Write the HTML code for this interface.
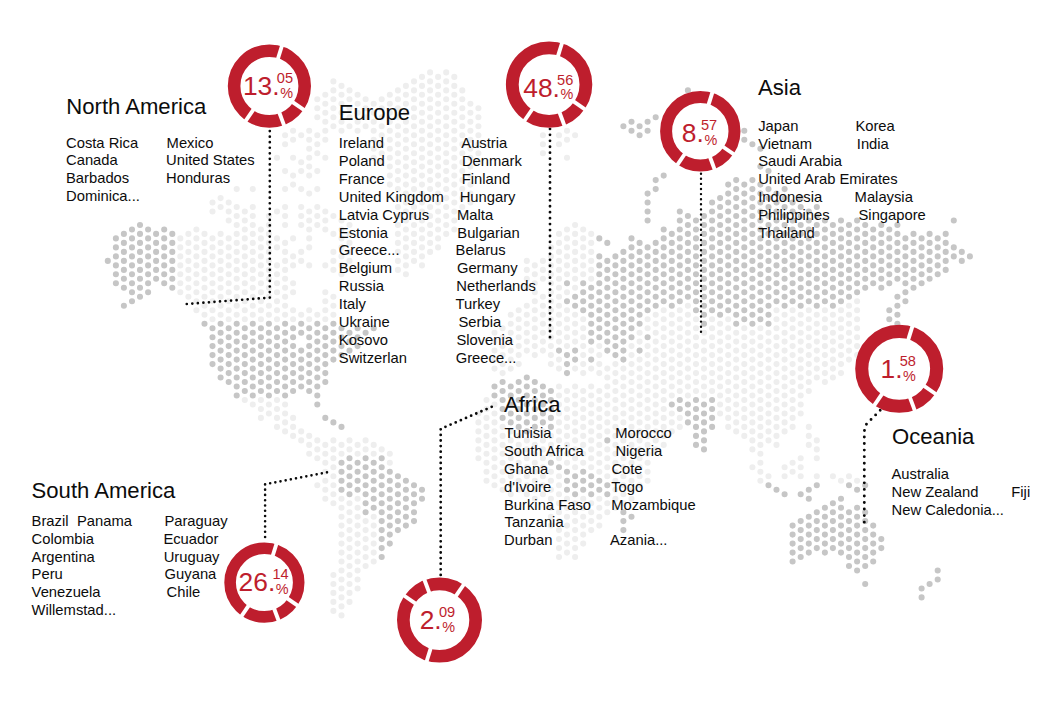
<!DOCTYPE html>
<html><head><meta charset="utf-8"><title>map</title><style>
html,body{margin:0;padding:0;background:#fff}
#c{position:relative;width:1060px;height:703px;overflow:hidden;background:#fff;font-family:"Liberation Sans",sans-serif}
svg{position:absolute;left:0;top:0}
.t{position:absolute;white-space:pre;color:#0c0c0c;line-height:1;}
</style></head><body><div id="c">
<svg width="1060" height="703" viewBox="0 0 1060 703">
<path d="M180.3 238.4h0M180.3 247.4h0M180.3 256.4h0M180.3 265.4h0M180.3 274.3h0M180.3 283.3h0M180.3 292.3h0M188.4 233.9h0M188.4 242.9h0M188.4 251.9h0M188.4 260.9h0M188.4 269.9h0M188.4 278.8h0M188.4 287.8h0M188.4 296.8h0M196.4 229.5h0M196.4 238.4h0M196.4 247.4h0M196.4 256.4h0M196.4 265.4h0M196.4 274.3h0M196.4 283.3h0M196.4 292.3h0M196.4 301.3h0M196.4 310.2h0M204.5 233.9h0M204.5 242.9h0M204.5 251.9h0M204.5 260.9h0M204.5 269.9h0M204.5 278.8h0M204.5 287.8h0M204.5 296.8h0M204.5 305.8h0M204.5 314.7h0M212.5 202.5h0M212.5 211.5h0M212.5 238.4h0M212.5 247.4h0M212.5 256.4h0M212.5 265.4h0M212.5 274.3h0M212.5 283.3h0M212.5 292.3h0M212.5 301.3h0M212.5 310.2h0M212.5 319.2h0M220.6 198.1h0M220.6 207.0h0M220.6 233.9h0M220.6 242.9h0M220.6 251.9h0M220.6 260.9h0M220.6 269.9h0M220.6 278.8h0M220.6 287.8h0M220.6 296.8h0M220.6 305.8h0M220.6 314.7h0M228.7 202.5h0M228.7 211.5h0M228.7 220.5h0M228.7 238.4h0M228.7 247.4h0M228.7 256.4h0M228.7 265.4h0M228.7 274.3h0M228.7 283.3h0M228.7 292.3h0M228.7 301.3h0M228.7 310.2h0M228.7 319.2h0M236.7 189.1h0M236.7 207.0h0M236.7 216.0h0M236.7 225.0h0M236.7 233.9h0M236.7 242.9h0M236.7 251.9h0M236.7 260.9h0M236.7 269.9h0M236.7 278.8h0M236.7 287.8h0M236.7 296.8h0M236.7 305.8h0M236.7 314.7h0M244.8 211.5h0M244.8 220.5h0M244.8 229.5h0M244.8 238.4h0M244.8 247.4h0M244.8 256.4h0M244.8 265.4h0M244.8 274.3h0M244.8 283.3h0M244.8 292.3h0M244.8 301.3h0M244.8 310.2h0M244.8 319.2h0M244.8 400.0h0M252.8 189.1h0M252.8 207.0h0M252.8 216.0h0M252.8 225.0h0M252.8 233.9h0M252.8 242.9h0M252.8 251.9h0M252.8 260.9h0M252.8 269.9h0M252.8 278.8h0M252.8 287.8h0M252.8 296.8h0M252.8 305.8h0M252.8 314.7h0M252.8 404.5h0M260.9 229.5h0M260.9 238.4h0M260.9 247.4h0M260.9 256.4h0M260.9 265.4h0M260.9 274.3h0M260.9 283.3h0M260.9 292.3h0M260.9 301.3h0M260.9 310.2h0M260.9 319.2h0M260.9 400.0h0M260.9 409.0h0M260.9 417.9h0M268.9 216.0h0M268.9 225.0h0M268.9 233.9h0M268.9 242.9h0M268.9 251.9h0M268.9 260.9h0M268.9 269.9h0M268.9 278.8h0M268.9 287.8h0M268.9 296.8h0M268.9 305.8h0M268.9 314.7h0M268.9 404.5h0M268.9 413.5h0M277.0 157.7h0M277.0 211.5h0M277.0 238.4h0M277.0 247.4h0M277.0 265.4h0M277.0 274.3h0M277.0 283.3h0M277.0 292.3h0M277.0 301.3h0M277.0 310.2h0M277.0 319.2h0M277.0 400.0h0M277.0 409.0h0M277.0 417.9h0M277.0 426.9h0M285.1 135.2h0M285.1 144.2h0M285.1 171.1h0M285.1 189.1h0M285.1 207.0h0M285.1 216.0h0M285.1 225.0h0M285.1 242.9h0M285.1 251.9h0M285.1 260.9h0M285.1 269.9h0M285.1 278.8h0M285.1 287.8h0M285.1 296.8h0M285.1 305.8h0M285.1 314.7h0M285.1 404.5h0M285.1 413.5h0M285.1 422.4h0M285.1 431.4h0M293.1 130.7h0M293.1 139.7h0M293.1 157.7h0M293.1 175.6h0M293.1 184.6h0M293.1 238.4h0M293.1 256.4h0M293.1 265.4h0M293.1 283.3h0M293.1 292.3h0M293.1 310.2h0M293.1 319.2h0M293.1 417.9h0M293.1 426.9h0M293.1 435.9h0M301.2 135.2h0M301.2 162.2h0M301.2 171.1h0M301.2 189.1h0M301.2 207.0h0M301.2 216.0h0M301.2 225.0h0M301.2 251.9h0M301.2 260.9h0M301.2 314.7h0M301.2 431.4h0M301.2 440.4h0M309.2 130.7h0M309.2 139.7h0M309.2 148.7h0M309.2 157.7h0M309.2 166.6h0M309.2 175.6h0M309.2 193.6h0M309.2 211.5h0M309.2 220.5h0M309.2 229.5h0M309.2 238.4h0M309.2 247.4h0M309.2 265.4h0M309.2 310.2h0M309.2 319.2h0M309.2 435.9h0M309.2 444.9h0M309.2 453.8h0M317.3 99.3h0M317.3 108.3h0M317.3 117.3h0M317.3 135.2h0M317.3 144.2h0M317.3 153.2h0M317.3 171.1h0M317.3 189.1h0M317.3 207.0h0M317.3 216.0h0M317.3 225.0h0M317.3 314.7h0M317.3 440.4h0M317.3 449.4h0M317.3 458.3h0M317.3 485.2h0M325.3 94.8h0M325.3 103.8h0M325.3 112.8h0M325.3 121.8h0M325.3 130.7h0M325.3 139.7h0M325.3 157.7h0M325.3 211.5h0M325.3 220.5h0M325.3 229.5h0M325.3 265.4h0M325.3 292.3h0M325.3 301.3h0M325.3 310.2h0M325.3 319.2h0M325.3 444.9h0M325.3 453.8h0M325.3 462.8h0M325.3 471.8h0M325.3 480.8h0M325.3 489.7h0M325.3 498.7h0M333.4 81.4h0M333.4 90.4h0M333.4 99.3h0M333.4 108.3h0M333.4 117.3h0M333.4 126.2h0M333.4 216.0h0M333.4 233.9h0M333.4 251.9h0M333.4 260.9h0M333.4 269.9h0M333.4 296.8h0M333.4 305.8h0M333.4 314.7h0M333.4 440.4h0M333.4 449.4h0M333.4 458.3h0M333.4 467.3h0M333.4 476.3h0M333.4 485.2h0M333.4 494.2h0M333.4 503.2h0M333.4 575.0h0M333.4 584.0h0M333.4 592.9h0M333.4 601.9h0M333.4 610.9h0M341.5 85.9h0M341.5 94.8h0M341.5 103.8h0M341.5 112.8h0M341.5 121.8h0M341.5 130.7h0M341.5 220.5h0M341.5 229.5h0M341.5 238.4h0M341.5 247.4h0M341.5 256.4h0M341.5 265.4h0M341.5 274.3h0M341.5 444.9h0M341.5 453.8h0M341.5 498.7h0M341.5 507.7h0M341.5 516.7h0M341.5 525.6h0M341.5 534.6h0M341.5 543.6h0M341.5 552.6h0M341.5 561.5h0M341.5 570.5h0M341.5 579.5h0M341.5 588.5h0M341.5 597.4h0M341.5 606.4h0M341.5 615.4h0M349.5 90.4h0M349.5 99.3h0M349.5 108.3h0M349.5 117.3h0M349.5 126.2h0M349.5 225.0h0M349.5 233.9h0M349.5 242.9h0M349.5 251.9h0M349.5 260.9h0M349.5 440.4h0M349.5 449.4h0M349.5 503.2h0M349.5 512.2h0M349.5 521.1h0M349.5 530.1h0M349.5 539.1h0M349.5 548.1h0M349.5 557.0h0M349.5 566.0h0M349.5 575.0h0M349.5 584.0h0M349.5 592.9h0M349.5 601.9h0M357.6 94.8h0M357.6 103.8h0M357.6 112.8h0M357.6 121.8h0M357.6 130.7h0M357.6 444.9h0M357.6 453.8h0M357.6 498.7h0M357.6 507.7h0M357.6 516.7h0M357.6 525.6h0M357.6 534.6h0M357.6 543.6h0M357.6 552.6h0M357.6 561.5h0M357.6 570.5h0M357.6 579.5h0M357.6 588.5h0M365.6 99.3h0M365.6 108.3h0M365.6 117.3h0M365.6 126.2h0M365.6 440.4h0M365.6 449.4h0M365.6 521.1h0M365.6 530.1h0M365.6 539.1h0M365.6 548.1h0M365.6 557.0h0M365.6 566.0h0M373.7 103.8h0M373.7 112.8h0M373.7 121.8h0M373.7 130.7h0M373.7 139.7h0M373.7 148.7h0M373.7 157.7h0M373.7 444.9h0M373.7 453.8h0M373.7 516.7h0M373.7 525.6h0M373.7 534.6h0M373.7 543.6h0M373.7 552.6h0M373.7 561.5h0M381.7 99.3h0M381.7 108.3h0M381.7 117.3h0M381.7 126.2h0M381.7 135.2h0M381.7 144.2h0M381.7 153.2h0M381.7 162.2h0M381.7 449.4h0M389.8 94.8h0M389.8 103.8h0M389.8 112.8h0M389.8 121.8h0M389.8 130.7h0M389.8 139.7h0M389.8 148.7h0M389.8 157.7h0M389.8 166.6h0M389.8 175.6h0M389.8 184.6h0M389.8 453.8h0M389.8 462.8h0M397.9 90.4h0M397.9 99.3h0M397.9 108.3h0M397.9 117.3h0M397.9 126.2h0M397.9 135.2h0M397.9 144.2h0M397.9 153.2h0M397.9 162.2h0M397.9 171.1h0M397.9 180.1h0M397.9 189.1h0M397.9 198.1h0M397.9 207.0h0M397.9 216.0h0M397.9 225.0h0M397.9 233.9h0M397.9 242.9h0M397.9 251.9h0M397.9 260.9h0M397.9 269.9h0M405.9 85.9h0M405.9 94.8h0M405.9 103.8h0M405.9 112.8h0M405.9 121.8h0M405.9 130.7h0M405.9 139.7h0M405.9 148.7h0M405.9 157.7h0M405.9 166.6h0M405.9 175.6h0M405.9 184.6h0M405.9 193.6h0M405.9 202.5h0M405.9 211.5h0M405.9 220.5h0M405.9 229.5h0M405.9 238.4h0M405.9 247.4h0M405.9 256.4h0M405.9 265.4h0M405.9 274.3h0M414.0 81.4h0M414.0 90.4h0M414.0 99.3h0M414.0 108.3h0M414.0 117.3h0M414.0 126.2h0M414.0 135.2h0M414.0 144.2h0M414.0 153.2h0M414.0 162.2h0M414.0 171.1h0M414.0 180.1h0M414.0 189.1h0M414.0 198.1h0M414.0 207.0h0M414.0 216.0h0M414.0 225.0h0M414.0 233.9h0M414.0 242.9h0M414.0 251.9h0M414.0 260.9h0M422.0 76.9h0M422.0 85.9h0M422.0 94.8h0M422.0 103.8h0M422.0 112.8h0M422.0 121.8h0M422.0 130.7h0M422.0 139.7h0M422.0 148.7h0M422.0 157.7h0M422.0 166.6h0M422.0 175.6h0M422.0 184.6h0M422.0 193.6h0M422.0 202.5h0M422.0 211.5h0M422.0 220.5h0M422.0 229.5h0M422.0 238.4h0M422.0 247.4h0M422.0 256.4h0M422.0 265.4h0M430.1 72.4h0M430.1 81.4h0M430.1 90.4h0M430.1 99.3h0M430.1 108.3h0M430.1 117.3h0M430.1 126.2h0M430.1 135.2h0M430.1 144.2h0M430.1 153.2h0M430.1 162.2h0M430.1 171.1h0M430.1 180.1h0M430.1 189.1h0M430.1 198.1h0M430.1 207.0h0M430.1 216.0h0M430.1 225.0h0M430.1 233.9h0M430.1 242.9h0M430.1 251.9h0M438.1 76.9h0M438.1 85.9h0M438.1 94.8h0M438.1 103.8h0M438.1 112.8h0M438.1 121.8h0M438.1 130.7h0M438.1 139.7h0M438.1 148.7h0M438.1 157.7h0M438.1 166.6h0M438.1 175.6h0M438.1 184.6h0M438.1 193.6h0M438.1 202.5h0M438.1 211.5h0M438.1 220.5h0M438.1 229.5h0M438.1 238.4h0M438.1 247.4h0M446.2 72.4h0M446.2 81.4h0M446.2 90.4h0M446.2 99.3h0M446.2 108.3h0M446.2 117.3h0M446.2 126.2h0M446.2 135.2h0M446.2 144.2h0M446.2 153.2h0M446.2 162.2h0M446.2 171.1h0M446.2 180.1h0M446.2 189.1h0M446.2 198.1h0M446.2 207.0h0M446.2 216.0h0M446.2 225.0h0M446.2 233.9h0M454.3 76.9h0M454.3 85.9h0M454.3 94.8h0M454.3 103.8h0M454.3 112.8h0M454.3 121.8h0M454.3 130.7h0M454.3 139.7h0M454.3 148.7h0M454.3 157.7h0M454.3 166.6h0M454.3 175.6h0M454.3 184.6h0M454.3 193.6h0M454.3 202.5h0M454.3 211.5h0M454.3 220.5h0M454.3 229.5h0M462.3 90.4h0M462.3 99.3h0M462.3 108.3h0M462.3 117.3h0M462.3 126.2h0M462.3 135.2h0M462.3 144.2h0M462.3 153.2h0M462.3 162.2h0M462.3 171.1h0M462.3 180.1h0M462.3 189.1h0M462.3 198.1h0M462.3 207.0h0M462.3 216.0h0M470.4 103.8h0M470.4 112.8h0M470.4 121.8h0M470.4 130.7h0M470.4 139.7h0M470.4 148.7h0M470.4 157.7h0M470.4 166.6h0M470.4 175.6h0M470.4 184.6h0M470.4 193.6h0M470.4 202.5h0M478.4 108.3h0M478.4 117.3h0M478.4 126.2h0M478.4 135.2h0M478.4 144.2h0M478.4 153.2h0M478.4 162.2h0M478.4 413.5h0M478.4 422.4h0M478.4 431.4h0M478.4 440.4h0M478.4 449.4h0M478.4 458.3h0M486.5 400.0h0M486.5 409.0h0M486.5 417.9h0M486.5 426.9h0M486.5 435.9h0M486.5 444.9h0M486.5 453.8h0M486.5 462.8h0M486.5 471.8h0M486.5 480.8h0M494.5 332.7h0M494.5 341.6h0M494.5 350.6h0M494.5 359.6h0M494.5 368.6h0M494.5 404.5h0M494.5 413.5h0M494.5 422.4h0M494.5 431.4h0M494.5 440.4h0M494.5 449.4h0M494.5 458.3h0M494.5 467.3h0M494.5 476.3h0M494.5 485.2h0M502.6 328.2h0M502.6 337.2h0M502.6 346.1h0M502.6 355.1h0M502.6 364.1h0M502.6 373.1h0M502.6 426.9h0M502.6 435.9h0M502.6 444.9h0M502.6 453.8h0M502.6 462.8h0M502.6 471.8h0M502.6 480.8h0M502.6 489.7h0M510.7 314.7h0M510.7 323.7h0M510.7 332.7h0M510.7 341.6h0M510.7 350.6h0M510.7 359.6h0M510.7 368.6h0M510.7 431.4h0M510.7 440.4h0M510.7 449.4h0M510.7 458.3h0M510.7 467.3h0M510.7 476.3h0M510.7 485.2h0M510.7 494.2h0M518.7 310.2h0M518.7 319.2h0M518.7 328.2h0M518.7 337.2h0M518.7 346.1h0M518.7 355.1h0M518.7 364.1h0M518.7 435.9h0M518.7 444.9h0M518.7 453.8h0M518.7 462.8h0M518.7 471.8h0M518.7 480.8h0M518.7 489.7h0M526.8 260.9h0M526.8 269.9h0M526.8 278.8h0M526.8 287.8h0M526.8 305.8h0M526.8 314.7h0M526.8 323.7h0M526.8 332.7h0M526.8 341.6h0M526.8 350.6h0M526.8 440.4h0M526.8 449.4h0M526.8 458.3h0M526.8 467.3h0M526.8 476.3h0M526.8 485.2h0M526.8 494.2h0M534.8 265.4h0M534.8 274.3h0M534.8 283.3h0M534.8 292.3h0M534.8 301.3h0M534.8 310.2h0M534.8 319.2h0M534.8 328.2h0M534.8 337.2h0M534.8 346.1h0M534.8 355.1h0M534.8 435.9h0M534.8 444.9h0M534.8 453.8h0M534.8 462.8h0M534.8 471.8h0M534.8 480.8h0M534.8 489.7h0M534.8 498.7h0M542.9 135.2h0M542.9 144.2h0M542.9 153.2h0M542.9 260.9h0M542.9 269.9h0M542.9 278.8h0M542.9 296.8h0M542.9 305.8h0M542.9 314.7h0M542.9 323.7h0M542.9 332.7h0M542.9 341.6h0M542.9 350.6h0M542.9 431.4h0M542.9 440.4h0M542.9 449.4h0M542.9 458.3h0M542.9 467.3h0M542.9 476.3h0M542.9 485.2h0M542.9 494.2h0M550.9 247.4h0M550.9 256.4h0M550.9 265.4h0M550.9 274.3h0M550.9 283.3h0M550.9 292.3h0M550.9 301.3h0M550.9 310.2h0M550.9 319.2h0M550.9 328.2h0M550.9 337.2h0M550.9 346.1h0M550.9 355.1h0M550.9 364.1h0M550.9 435.9h0M550.9 444.9h0M550.9 453.8h0M550.9 471.8h0M550.9 480.8h0M550.9 489.7h0M550.9 498.7h0M550.9 507.7h0M550.9 516.7h0M550.9 525.6h0M559.0 135.2h0M559.0 144.2h0M559.0 233.9h0M559.0 242.9h0M559.0 251.9h0M559.0 260.9h0M559.0 269.9h0M559.0 278.8h0M559.0 287.8h0M559.0 296.8h0M559.0 305.8h0M559.0 314.7h0M559.0 323.7h0M559.0 332.7h0M559.0 341.6h0M559.0 359.6h0M559.0 368.6h0M559.0 386.5h0M559.0 395.5h0M559.0 404.5h0M559.0 413.5h0M559.0 422.4h0M559.0 431.4h0M559.0 440.4h0M559.0 449.4h0M559.0 458.3h0M559.0 476.3h0M559.0 485.2h0M559.0 494.2h0M559.0 503.2h0M559.0 512.2h0M559.0 521.1h0M559.0 530.1h0M559.0 539.1h0M559.0 548.1h0M559.0 557.0h0M567.0 130.7h0M567.0 139.7h0M567.0 157.7h0M567.0 229.5h0M567.0 238.4h0M567.0 247.4h0M567.0 256.4h0M567.0 265.4h0M567.0 274.3h0M567.0 292.3h0M567.0 310.2h0M567.0 319.2h0M567.0 328.2h0M567.0 337.2h0M567.0 346.1h0M567.0 391.0h0M567.0 400.0h0M567.0 409.0h0M567.0 417.9h0M567.0 426.9h0M567.0 435.9h0M567.0 444.9h0M567.0 453.8h0M567.0 462.8h0M567.0 498.7h0M567.0 507.7h0M567.0 516.7h0M567.0 525.6h0M567.0 534.6h0M567.0 543.6h0M567.0 552.6h0M575.1 135.2h0M575.1 225.0h0M575.1 233.9h0M575.1 242.9h0M575.1 251.9h0M575.1 260.9h0M575.1 269.9h0M575.1 278.8h0M575.1 287.8h0M575.1 314.7h0M575.1 323.7h0M575.1 332.7h0M575.1 341.6h0M575.1 368.6h0M575.1 386.5h0M575.1 395.5h0M575.1 404.5h0M575.1 413.5h0M575.1 422.4h0M575.1 431.4h0M575.1 440.4h0M575.1 449.4h0M575.1 458.3h0M575.1 467.3h0M575.1 503.2h0M575.1 512.2h0M575.1 521.1h0M575.1 530.1h0M575.1 539.1h0M575.1 548.1h0M575.1 557.0h0M583.2 229.5h0M583.2 238.4h0M583.2 247.4h0M583.2 256.4h0M583.2 265.4h0M583.2 274.3h0M583.2 319.2h0M583.2 328.2h0M583.2 337.2h0M583.2 346.1h0M583.2 355.1h0M583.2 364.1h0M583.2 373.1h0M583.2 391.0h0M583.2 400.0h0M583.2 409.0h0M583.2 417.9h0M583.2 426.9h0M583.2 435.9h0M583.2 444.9h0M583.2 453.8h0M583.2 462.8h0M583.2 498.7h0M583.2 507.7h0M583.2 516.7h0M583.2 525.6h0M583.2 534.6h0M583.2 543.6h0M591.2 233.9h0M591.2 242.9h0M591.2 251.9h0M591.2 260.9h0M591.2 269.9h0M591.2 278.8h0M591.2 350.6h0M591.2 368.6h0M591.2 386.5h0M591.2 395.5h0M591.2 404.5h0M591.2 413.5h0M591.2 422.4h0M591.2 431.4h0M591.2 440.4h0M591.2 449.4h0M591.2 458.3h0M591.2 467.3h0M591.2 503.2h0M591.2 512.2h0M591.2 521.1h0M591.2 530.1h0M599.3 346.1h0M599.3 355.1h0M599.3 364.1h0M599.3 373.1h0M599.3 391.0h0M599.3 400.0h0M599.3 409.0h0M599.3 417.9h0M599.3 426.9h0M599.3 435.9h0M599.3 444.9h0M599.3 453.8h0M599.3 462.8h0M599.3 471.8h0M599.3 498.7h0M599.3 507.7h0M599.3 516.7h0M599.3 525.6h0M607.3 368.6h0M607.3 377.5h0M607.3 386.5h0M607.3 395.5h0M607.3 404.5h0M607.3 413.5h0M607.3 422.4h0M607.3 431.4h0M607.3 449.4h0M607.3 458.3h0M607.3 467.3h0M607.3 476.3h0M607.3 503.2h0M607.3 512.2h0M615.4 364.1h0M615.4 373.1h0M615.4 382.0h0M615.4 391.0h0M615.4 400.0h0M615.4 409.0h0M615.4 417.9h0M615.4 426.9h0M615.4 435.9h0M615.4 444.9h0M615.4 453.8h0M615.4 462.8h0M615.4 471.8h0M615.4 480.8h0M615.4 489.7h0M615.4 498.7h0M615.4 507.7h0M623.4 368.6h0M623.4 377.5h0M623.4 386.5h0M623.4 395.5h0M623.4 404.5h0M623.4 413.5h0M623.4 422.4h0M623.4 431.4h0M623.4 440.4h0M623.4 449.4h0M623.4 458.3h0M623.4 467.3h0M623.4 476.3h0M623.4 485.2h0M623.4 494.2h0M623.4 503.2h0M631.5 346.1h0M631.5 355.1h0M631.5 364.1h0M631.5 373.1h0M631.5 382.0h0M631.5 391.0h0M631.5 400.0h0M631.5 409.0h0M631.5 417.9h0M631.5 426.9h0M631.5 435.9h0M631.5 444.9h0M631.5 453.8h0M631.5 462.8h0M631.5 471.8h0M631.5 480.8h0M631.5 489.7h0M631.5 498.7h0M639.6 332.7h0M639.6 341.6h0M639.6 359.6h0M639.6 368.6h0M639.6 377.5h0M639.6 386.5h0M639.6 395.5h0M639.6 404.5h0M639.6 413.5h0M639.6 422.4h0M639.6 431.4h0M639.6 440.4h0M639.6 449.4h0M639.6 458.3h0M639.6 467.3h0M639.6 476.3h0M639.6 485.2h0M647.6 319.2h0M647.6 328.2h0M647.6 346.1h0M647.6 355.1h0M647.6 364.1h0M647.6 373.1h0M647.6 382.0h0M647.6 391.0h0M647.6 400.0h0M647.6 409.0h0M647.6 417.9h0M647.6 426.9h0M647.6 435.9h0M647.6 444.9h0M647.6 453.8h0M647.6 462.8h0M647.6 471.8h0M647.6 480.8h0M655.7 314.7h0M655.7 323.7h0M655.7 332.7h0M655.7 341.6h0M655.7 350.6h0M655.7 359.6h0M655.7 368.6h0M655.7 377.5h0M655.7 386.5h0M655.7 395.5h0M655.7 404.5h0M655.7 413.5h0M655.7 422.4h0M655.7 431.4h0M655.7 440.4h0M655.7 449.4h0M663.7 310.2h0M663.7 319.2h0M663.7 328.2h0M663.7 337.2h0M663.7 346.1h0M663.7 355.1h0M663.7 364.1h0M663.7 373.1h0M663.7 382.0h0M663.7 391.0h0M663.7 400.0h0M663.7 409.0h0M663.7 417.9h0M663.7 426.9h0M663.7 435.9h0M663.7 444.9h0M671.8 314.7h0M671.8 323.7h0M671.8 332.7h0M671.8 341.6h0M671.8 350.6h0M671.8 359.6h0M671.8 368.6h0M671.8 377.5h0M671.8 386.5h0M671.8 395.5h0M671.8 413.5h0M671.8 422.4h0M671.8 431.4h0M679.8 310.2h0M679.8 319.2h0M679.8 328.2h0M679.8 337.2h0M679.8 346.1h0M679.8 355.1h0M679.8 364.1h0M679.8 373.1h0M679.8 382.0h0M679.8 391.0h0M679.8 417.9h0M679.8 426.9h0M687.9 305.8h0M687.9 314.7h0M687.9 323.7h0M687.9 332.7h0M687.9 341.6h0M687.9 350.6h0M687.9 359.6h0M687.9 368.6h0M687.9 377.5h0M687.9 386.5h0M687.9 395.5h0M696.0 319.2h0M696.0 328.2h0M696.0 337.2h0M696.0 346.1h0M696.0 355.1h0M696.0 364.1h0M696.0 373.1h0M696.0 382.0h0M696.0 391.0h0M704.0 332.7h0M704.0 341.6h0M704.0 350.6h0M704.0 359.6h0M704.0 368.6h0M704.0 377.5h0M704.0 386.5h0M704.0 395.5h0M712.1 319.2h0M712.1 328.2h0M712.1 337.2h0M712.1 346.1h0M712.1 355.1h0M712.1 364.1h0M712.1 373.1h0M712.1 382.0h0M712.1 391.0h0M720.1 323.7h0M720.1 332.7h0M720.1 341.6h0M720.1 350.6h0M720.1 359.6h0M720.1 368.6h0M720.1 377.5h0M720.1 386.5h0M720.1 395.5h0M720.1 404.5h0M720.1 413.5h0M728.2 319.2h0M728.2 328.2h0M728.2 337.2h0M728.2 346.1h0M728.2 355.1h0M728.2 364.1h0M728.2 373.1h0M728.2 382.0h0M728.2 391.0h0M728.2 400.0h0M728.2 409.0h0M728.2 417.9h0M728.2 426.9h0M736.2 332.7h0M736.2 341.6h0M736.2 350.6h0M736.2 359.6h0M736.2 368.6h0M736.2 377.5h0M736.2 386.5h0M736.2 395.5h0M736.2 404.5h0M736.2 413.5h0M736.2 422.4h0M736.2 431.4h0M744.3 328.2h0M744.3 337.2h0M744.3 346.1h0M744.3 355.1h0M744.3 364.1h0M744.3 373.1h0M744.3 382.0h0M744.3 391.0h0M744.3 400.0h0M744.3 409.0h0M744.3 417.9h0M744.3 426.9h0M744.3 435.9h0M752.4 332.7h0M752.4 341.6h0M752.4 350.6h0M752.4 359.6h0M752.4 368.6h0M752.4 377.5h0M752.4 386.5h0M752.4 395.5h0M752.4 404.5h0M752.4 413.5h0M752.4 422.4h0M752.4 431.4h0M752.4 440.4h0M752.4 449.4h0M752.4 467.3h0M760.4 328.2h0M760.4 337.2h0M760.4 346.1h0M760.4 355.1h0M760.4 364.1h0M760.4 373.1h0M760.4 382.0h0M760.4 391.0h0M760.4 400.0h0M760.4 409.0h0M760.4 417.9h0M760.4 426.9h0M760.4 435.9h0M760.4 444.9h0M760.4 453.8h0M760.4 462.8h0M760.4 471.8h0M760.4 480.8h0M768.5 332.7h0M768.5 341.6h0M768.5 350.6h0M768.5 359.6h0M768.5 368.6h0M768.5 377.5h0M768.5 386.5h0M768.5 395.5h0M768.5 404.5h0M768.5 413.5h0M768.5 422.4h0M768.5 431.4h0M768.5 440.4h0M768.5 476.3h0M776.5 310.2h0M776.5 319.2h0M776.5 328.2h0M776.5 337.2h0M776.5 346.1h0M776.5 355.1h0M776.5 364.1h0M776.5 373.1h0M776.5 382.0h0M776.5 391.0h0M776.5 400.0h0M776.5 409.0h0M776.5 417.9h0M776.5 426.9h0M776.5 435.9h0M776.5 444.9h0M784.6 314.7h0M784.6 323.7h0M784.6 332.7h0M784.6 341.6h0M784.6 350.6h0M784.6 359.6h0M784.6 368.6h0M784.6 377.5h0M784.6 386.5h0M784.6 395.5h0M784.6 404.5h0M784.6 413.5h0M784.6 422.4h0M784.6 431.4h0M784.6 467.3h0M784.6 476.3h0M792.6 310.2h0M792.6 319.2h0M792.6 328.2h0M792.6 337.2h0M792.6 346.1h0M792.6 355.1h0M792.6 364.1h0M792.6 373.1h0M792.6 382.0h0M792.6 391.0h0M792.6 400.0h0M792.6 409.0h0M792.6 417.9h0M792.6 426.9h0M792.6 462.8h0M792.6 471.8h0M800.7 314.7h0M800.7 323.7h0M800.7 332.7h0M800.7 341.6h0M800.7 350.6h0M800.7 359.6h0M800.7 368.6h0M800.7 377.5h0M800.7 386.5h0M800.7 395.5h0M800.7 404.5h0M800.7 413.5h0M800.7 458.3h0M800.7 467.3h0M800.7 476.3h0M808.8 310.2h0M808.8 319.2h0M808.8 328.2h0M808.8 337.2h0M808.8 346.1h0M808.8 355.1h0M808.8 364.1h0M808.8 373.1h0M808.8 382.0h0M808.8 391.0h0M808.8 426.9h0M808.8 435.9h0M808.8 444.9h0M816.8 314.7h0M816.8 323.7h0M816.8 332.7h0M816.8 341.6h0M816.8 350.6h0M816.8 359.6h0M816.8 368.6h0M816.8 377.5h0M816.8 440.4h0M816.8 449.4h0M816.8 458.3h0M816.8 476.3h0M824.9 310.2h0M824.9 319.2h0M824.9 328.2h0M824.9 337.2h0M824.9 346.1h0M824.9 355.1h0M824.9 364.1h0M824.9 373.1h0M824.9 382.0h0M832.9 314.7h0M832.9 323.7h0M832.9 332.7h0M832.9 341.6h0M832.9 350.6h0M832.9 359.6h0M832.9 368.6h0M832.9 377.5h0M832.9 476.3h0M841.0 310.2h0M841.0 319.2h0M841.0 328.2h0M841.0 337.2h0M841.0 346.1h0M841.0 355.1h0M841.0 364.1h0M841.0 373.1h0M841.0 480.8h0M849.0 305.8h0M849.0 314.7h0M849.0 323.7h0M849.0 332.7h0M849.0 341.6h0M849.0 350.6h0M849.0 359.6h0M849.0 476.3h0M857.1 301.3h0M857.1 310.2h0M857.1 319.2h0M857.1 328.2h0M857.1 337.2h0M857.1 346.1h0M857.1 355.1h0M857.1 480.8h0" stroke="#eeeeee" stroke-width="6.1" stroke-linecap="round" fill="none"/>
<path d="M107.8 260.9h0M115.9 238.4h0M115.9 247.4h0M115.9 256.4h0M115.9 265.4h0M115.9 274.3h0M115.9 283.3h0M123.9 233.9h0M123.9 242.9h0M123.9 251.9h0M123.9 260.9h0M123.9 269.9h0M123.9 278.8h0M123.9 287.8h0M123.9 305.8h0M132.0 229.5h0M132.0 238.4h0M132.0 247.4h0M132.0 256.4h0M132.0 265.4h0M132.0 274.3h0M132.0 283.3h0M132.0 292.3h0M132.0 301.3h0M140.0 225.0h0M140.0 233.9h0M140.0 242.9h0M140.0 251.9h0M140.0 260.9h0M140.0 269.9h0M140.0 278.8h0M140.0 287.8h0M140.0 296.8h0M148.1 229.5h0M148.1 238.4h0M148.1 247.4h0M148.1 256.4h0M148.1 265.4h0M148.1 274.3h0M148.1 283.3h0M148.1 292.3h0M156.1 233.9h0M156.1 242.9h0M156.1 251.9h0M156.1 260.9h0M156.1 269.9h0M156.1 278.8h0M164.2 229.5h0M164.2 238.4h0M164.2 247.4h0M164.2 256.4h0M164.2 265.4h0M164.2 274.3h0M164.2 283.3h0M172.3 233.9h0M172.3 242.9h0M172.3 251.9h0M172.3 260.9h0M172.3 269.9h0M172.3 278.8h0M172.3 287.8h0M204.5 323.7h0M212.5 328.2h0M212.5 337.2h0M212.5 346.1h0M212.5 355.1h0M212.5 364.1h0M220.6 323.7h0M220.6 332.7h0M220.6 341.6h0M220.6 350.6h0M220.6 359.6h0M220.6 368.6h0M220.6 377.5h0M228.7 328.2h0M228.7 337.2h0M228.7 346.1h0M228.7 355.1h0M228.7 364.1h0M228.7 373.1h0M228.7 382.0h0M236.7 323.7h0M236.7 332.7h0M236.7 341.6h0M236.7 350.6h0M236.7 359.6h0M236.7 368.6h0M236.7 377.5h0M236.7 386.5h0M236.7 395.5h0M244.8 328.2h0M244.8 337.2h0M244.8 346.1h0M244.8 355.1h0M244.8 364.1h0M244.8 373.1h0M244.8 382.0h0M244.8 391.0h0M252.8 323.7h0M252.8 332.7h0M252.8 341.6h0M252.8 350.6h0M252.8 359.6h0M252.8 368.6h0M252.8 377.5h0M252.8 386.5h0M252.8 395.5h0M260.9 328.2h0M260.9 337.2h0M260.9 346.1h0M260.9 355.1h0M260.9 364.1h0M260.9 373.1h0M260.9 382.0h0M260.9 391.0h0M268.9 323.7h0M268.9 332.7h0M268.9 341.6h0M268.9 350.6h0M268.9 359.6h0M268.9 368.6h0M268.9 377.5h0M268.9 386.5h0M268.9 395.5h0M277.0 328.2h0M277.0 337.2h0M277.0 346.1h0M277.0 355.1h0M277.0 364.1h0M277.0 373.1h0M277.0 382.0h0M277.0 391.0h0M285.1 323.7h0M285.1 332.7h0M285.1 341.6h0M285.1 350.6h0M285.1 359.6h0M285.1 368.6h0M285.1 377.5h0M285.1 386.5h0M285.1 395.5h0M293.1 328.2h0M293.1 337.2h0M293.1 346.1h0M293.1 355.1h0M293.1 364.1h0M293.1 373.1h0M293.1 382.0h0M293.1 391.0h0M301.2 323.7h0M301.2 332.7h0M301.2 350.6h0M301.2 359.6h0M301.2 368.6h0M301.2 377.5h0M301.2 386.5h0M309.2 328.2h0M309.2 337.2h0M309.2 346.1h0M309.2 355.1h0M309.2 364.1h0M309.2 373.1h0M309.2 382.0h0M309.2 391.0h0M317.3 323.7h0M317.3 332.7h0M317.3 341.6h0M317.3 350.6h0M317.3 359.6h0M317.3 368.6h0M317.3 377.5h0M317.3 386.5h0M317.3 395.5h0M317.3 404.5h0M325.3 328.2h0M325.3 337.2h0M325.3 346.1h0M325.3 355.1h0M325.3 364.1h0M325.3 373.1h0M325.3 382.0h0M325.3 417.9h0M333.4 323.7h0M333.4 332.7h0M333.4 341.6h0M333.4 350.6h0M333.4 359.6h0M333.4 422.4h0M341.5 328.2h0M341.5 337.2h0M341.5 346.1h0M341.5 355.1h0M341.5 426.9h0M341.5 462.8h0M341.5 471.8h0M341.5 480.8h0M341.5 489.7h0M349.5 332.7h0M349.5 341.6h0M349.5 350.6h0M349.5 458.3h0M349.5 467.3h0M349.5 476.3h0M349.5 485.2h0M349.5 494.2h0M357.6 328.2h0M357.6 337.2h0M357.6 346.1h0M357.6 462.8h0M357.6 471.8h0M357.6 480.8h0M357.6 489.7h0M365.6 332.7h0M365.6 458.3h0M365.6 467.3h0M365.6 476.3h0M365.6 485.2h0M365.6 494.2h0M365.6 503.2h0M365.6 512.2h0M373.7 328.2h0M373.7 462.8h0M373.7 471.8h0M373.7 480.8h0M373.7 489.7h0M373.7 498.7h0M373.7 507.7h0M381.7 458.3h0M381.7 467.3h0M381.7 476.3h0M381.7 485.2h0M381.7 494.2h0M381.7 503.2h0M381.7 512.2h0M381.7 521.1h0M381.7 530.1h0M381.7 539.1h0M381.7 548.1h0M381.7 557.0h0M389.8 471.8h0M389.8 480.8h0M389.8 489.7h0M389.8 498.7h0M389.8 507.7h0M389.8 516.7h0M389.8 525.6h0M389.8 534.6h0M389.8 543.6h0M397.9 476.3h0M397.9 485.2h0M397.9 494.2h0M397.9 503.2h0M397.9 512.2h0M397.9 521.1h0M397.9 530.1h0M405.9 480.8h0M405.9 489.7h0M405.9 498.7h0M405.9 507.7h0M405.9 516.7h0M405.9 525.6h0M414.0 485.2h0M414.0 494.2h0M414.0 503.2h0M414.0 512.2h0M414.0 521.1h0M422.0 489.7h0M422.0 498.7h0M494.5 386.5h0M494.5 395.5h0M502.6 382.0h0M502.6 391.0h0M502.6 400.0h0M502.6 409.0h0M502.6 417.9h0M510.7 386.5h0M510.7 395.5h0M510.7 404.5h0M510.7 413.5h0M510.7 422.4h0M518.7 382.0h0M518.7 391.0h0M518.7 400.0h0M518.7 409.0h0M518.7 417.9h0M518.7 426.9h0M526.8 377.5h0M526.8 386.5h0M526.8 395.5h0M526.8 404.5h0M526.8 413.5h0M526.8 422.4h0M526.8 431.4h0M534.8 382.0h0M534.8 391.0h0M534.8 400.0h0M534.8 409.0h0M534.8 417.9h0M534.8 426.9h0M542.9 386.5h0M542.9 395.5h0M542.9 404.5h0M542.9 413.5h0M542.9 422.4h0M550.9 391.0h0M550.9 400.0h0M550.9 409.0h0M550.9 417.9h0M550.9 426.9h0M550.9 462.8h0M559.0 350.6h0M559.0 467.3h0M567.0 283.3h0M567.0 301.3h0M567.0 355.1h0M567.0 364.1h0M567.0 373.1h0M567.0 471.8h0M567.0 480.8h0M567.0 489.7h0M575.1 296.8h0M575.1 305.8h0M575.1 350.6h0M575.1 359.6h0M575.1 476.3h0M575.1 485.2h0M575.1 494.2h0M583.2 283.3h0M583.2 292.3h0M583.2 301.3h0M583.2 310.2h0M583.2 471.8h0M583.2 480.8h0M583.2 489.7h0M591.2 287.8h0M591.2 296.8h0M591.2 305.8h0M591.2 314.7h0M591.2 323.7h0M591.2 332.7h0M591.2 341.6h0M591.2 359.6h0M591.2 476.3h0M591.2 485.2h0M591.2 494.2h0M599.3 238.4h0M599.3 256.4h0M599.3 265.4h0M599.3 274.3h0M599.3 283.3h0M599.3 292.3h0M599.3 301.3h0M599.3 310.2h0M599.3 319.2h0M599.3 328.2h0M599.3 337.2h0M599.3 480.8h0M599.3 489.7h0M607.3 242.9h0M607.3 260.9h0M607.3 269.9h0M607.3 278.8h0M607.3 287.8h0M607.3 296.8h0M607.3 305.8h0M607.3 314.7h0M607.3 323.7h0M607.3 332.7h0M607.3 341.6h0M607.3 350.6h0M607.3 440.4h0M607.3 485.2h0M607.3 494.2h0M615.4 256.4h0M615.4 265.4h0M615.4 274.3h0M615.4 283.3h0M615.4 292.3h0M615.4 301.3h0M615.4 310.2h0M615.4 319.2h0M615.4 328.2h0M615.4 337.2h0M615.4 346.1h0M615.4 355.1h0M623.4 126.2h0M623.4 251.9h0M623.4 260.9h0M623.4 269.9h0M623.4 278.8h0M623.4 287.8h0M623.4 296.8h0M623.4 305.8h0M623.4 314.7h0M623.4 323.7h0M623.4 332.7h0M623.4 341.6h0M623.4 350.6h0M623.4 359.6h0M623.4 512.2h0M623.4 521.1h0M623.4 530.1h0M631.5 121.8h0M631.5 130.7h0M631.5 238.4h0M631.5 247.4h0M631.5 256.4h0M631.5 265.4h0M631.5 274.3h0M631.5 283.3h0M631.5 292.3h0M631.5 301.3h0M631.5 310.2h0M631.5 319.2h0M631.5 328.2h0M631.5 337.2h0M631.5 516.7h0M639.6 126.2h0M639.6 135.2h0M639.6 242.9h0M639.6 251.9h0M639.6 260.9h0M639.6 269.9h0M639.6 278.8h0M639.6 287.8h0M639.6 296.8h0M639.6 305.8h0M639.6 314.7h0M639.6 323.7h0M639.6 350.6h0M647.6 121.8h0M647.6 130.7h0M647.6 193.6h0M647.6 202.5h0M647.6 211.5h0M647.6 220.5h0M647.6 247.4h0M647.6 256.4h0M647.6 265.4h0M647.6 274.3h0M647.6 283.3h0M647.6 292.3h0M647.6 301.3h0M647.6 310.2h0M647.6 337.2h0M655.7 117.3h0M655.7 180.1h0M655.7 189.1h0M655.7 242.9h0M655.7 251.9h0M655.7 260.9h0M655.7 269.9h0M655.7 278.8h0M655.7 287.8h0M655.7 296.8h0M655.7 305.8h0M663.7 175.6h0M663.7 229.5h0M663.7 238.4h0M663.7 247.4h0M663.7 256.4h0M663.7 265.4h0M663.7 274.3h0M663.7 283.3h0M663.7 292.3h0M663.7 301.3h0M671.8 233.9h0M671.8 242.9h0M671.8 251.9h0M671.8 260.9h0M671.8 269.9h0M671.8 278.8h0M671.8 287.8h0M671.8 296.8h0M671.8 305.8h0M671.8 404.5h0M679.8 211.5h0M679.8 220.5h0M679.8 229.5h0M679.8 238.4h0M679.8 247.4h0M679.8 256.4h0M679.8 265.4h0M679.8 274.3h0M679.8 283.3h0M679.8 292.3h0M679.8 301.3h0M679.8 400.0h0M679.8 409.0h0M687.9 90.4h0M687.9 216.0h0M687.9 225.0h0M687.9 233.9h0M687.9 242.9h0M687.9 251.9h0M687.9 260.9h0M687.9 269.9h0M687.9 278.8h0M687.9 287.8h0M687.9 296.8h0M687.9 404.5h0M687.9 413.5h0M687.9 422.4h0M696.0 220.5h0M696.0 229.5h0M696.0 238.4h0M696.0 247.4h0M696.0 256.4h0M696.0 265.4h0M696.0 274.3h0M696.0 283.3h0M696.0 292.3h0M696.0 301.3h0M696.0 310.2h0M696.0 400.0h0M696.0 409.0h0M696.0 417.9h0M696.0 426.9h0M696.0 435.9h0M696.0 444.9h0M704.0 216.0h0M704.0 225.0h0M704.0 233.9h0M704.0 242.9h0M704.0 251.9h0M704.0 260.9h0M704.0 269.9h0M704.0 278.8h0M704.0 287.8h0M704.0 296.8h0M704.0 305.8h0M704.0 314.7h0M704.0 323.7h0M704.0 404.5h0M704.0 413.5h0M704.0 422.4h0M704.0 431.4h0M704.0 440.4h0M704.0 449.4h0M712.1 202.5h0M712.1 211.5h0M712.1 220.5h0M712.1 229.5h0M712.1 238.4h0M712.1 247.4h0M712.1 256.4h0M712.1 265.4h0M712.1 274.3h0M712.1 283.3h0M712.1 292.3h0M712.1 301.3h0M712.1 310.2h0M712.1 400.0h0M712.1 409.0h0M712.1 417.9h0M712.1 426.9h0M720.1 198.1h0M720.1 207.0h0M720.1 216.0h0M720.1 225.0h0M720.1 233.9h0M720.1 242.9h0M720.1 251.9h0M720.1 260.9h0M720.1 269.9h0M720.1 278.8h0M720.1 287.8h0M720.1 296.8h0M720.1 305.8h0M720.1 314.7h0M728.2 184.6h0M728.2 193.6h0M728.2 202.5h0M728.2 211.5h0M728.2 220.5h0M728.2 229.5h0M728.2 238.4h0M728.2 247.4h0M728.2 256.4h0M728.2 265.4h0M728.2 274.3h0M728.2 283.3h0M728.2 292.3h0M728.2 301.3h0M728.2 310.2h0M736.2 180.1h0M736.2 189.1h0M736.2 198.1h0M736.2 207.0h0M736.2 216.0h0M736.2 225.0h0M736.2 233.9h0M736.2 242.9h0M736.2 251.9h0M736.2 260.9h0M736.2 269.9h0M736.2 278.8h0M736.2 287.8h0M736.2 296.8h0M736.2 305.8h0M736.2 314.7h0M736.2 323.7h0M744.3 130.7h0M744.3 139.7h0M744.3 184.6h0M744.3 193.6h0M744.3 202.5h0M744.3 211.5h0M744.3 220.5h0M744.3 229.5h0M744.3 238.4h0M744.3 247.4h0M744.3 256.4h0M744.3 265.4h0M744.3 274.3h0M744.3 283.3h0M744.3 292.3h0M744.3 301.3h0M744.3 310.2h0M744.3 319.2h0M752.4 144.2h0M752.4 180.1h0M752.4 189.1h0M752.4 198.1h0M752.4 207.0h0M752.4 216.0h0M752.4 225.0h0M752.4 233.9h0M752.4 242.9h0M752.4 251.9h0M752.4 260.9h0M752.4 269.9h0M752.4 278.8h0M752.4 287.8h0M752.4 296.8h0M752.4 305.8h0M752.4 314.7h0M752.4 323.7h0M760.4 148.7h0M760.4 166.6h0M760.4 184.6h0M760.4 193.6h0M760.4 202.5h0M760.4 211.5h0M760.4 220.5h0M760.4 229.5h0M760.4 238.4h0M760.4 247.4h0M760.4 256.4h0M760.4 265.4h0M760.4 274.3h0M760.4 283.3h0M760.4 292.3h0M760.4 301.3h0M760.4 310.2h0M760.4 319.2h0M768.5 171.1h0M768.5 189.1h0M768.5 198.1h0M768.5 207.0h0M768.5 216.0h0M768.5 225.0h0M768.5 233.9h0M768.5 242.9h0M768.5 251.9h0M768.5 260.9h0M768.5 269.9h0M768.5 278.8h0M768.5 287.8h0M768.5 296.8h0M768.5 305.8h0M768.5 314.7h0M768.5 323.7h0M768.5 485.2h0M776.5 193.6h0M776.5 202.5h0M776.5 211.5h0M776.5 220.5h0M776.5 229.5h0M776.5 238.4h0M776.5 247.4h0M776.5 256.4h0M776.5 265.4h0M776.5 274.3h0M776.5 283.3h0M776.5 292.3h0M776.5 301.3h0M776.5 489.7h0M784.6 189.1h0M784.6 198.1h0M784.6 207.0h0M784.6 216.0h0M784.6 225.0h0M784.6 233.9h0M784.6 242.9h0M784.6 251.9h0M784.6 260.9h0M784.6 269.9h0M784.6 278.8h0M784.6 287.8h0M784.6 296.8h0M784.6 305.8h0M784.6 494.2h0M792.6 202.5h0M792.6 211.5h0M792.6 220.5h0M792.6 229.5h0M792.6 238.4h0M792.6 247.4h0M792.6 256.4h0M792.6 265.4h0M792.6 274.3h0M792.6 283.3h0M792.6 292.3h0M792.6 301.3h0M792.6 525.6h0M792.6 534.6h0M792.6 543.6h0M792.6 552.6h0M792.6 561.5h0M800.7 198.1h0M800.7 207.0h0M800.7 216.0h0M800.7 225.0h0M800.7 233.9h0M800.7 242.9h0M800.7 251.9h0M800.7 260.9h0M800.7 269.9h0M800.7 278.8h0M800.7 287.8h0M800.7 296.8h0M800.7 305.8h0M800.7 494.2h0M800.7 521.1h0M800.7 530.1h0M800.7 539.1h0M800.7 548.1h0M800.7 557.0h0M808.8 211.5h0M808.8 220.5h0M808.8 229.5h0M808.8 238.4h0M808.8 247.4h0M808.8 256.4h0M808.8 265.4h0M808.8 274.3h0M808.8 283.3h0M808.8 292.3h0M808.8 301.3h0M808.8 489.7h0M808.8 498.7h0M808.8 516.7h0M808.8 525.6h0M808.8 534.6h0M808.8 543.6h0M808.8 552.6h0M816.8 207.0h0M816.8 216.0h0M816.8 225.0h0M816.8 233.9h0M816.8 242.9h0M816.8 251.9h0M816.8 260.9h0M816.8 269.9h0M816.8 278.8h0M816.8 287.8h0M816.8 296.8h0M816.8 305.8h0M816.8 485.2h0M816.8 512.2h0M816.8 521.1h0M816.8 530.1h0M816.8 539.1h0M816.8 548.1h0M824.9 220.5h0M824.9 229.5h0M824.9 238.4h0M824.9 247.4h0M824.9 256.4h0M824.9 265.4h0M824.9 274.3h0M824.9 283.3h0M824.9 292.3h0M824.9 301.3h0M824.9 507.7h0M824.9 516.7h0M824.9 525.6h0M824.9 534.6h0M824.9 543.6h0M824.9 552.6h0M832.9 225.0h0M832.9 233.9h0M832.9 242.9h0M832.9 251.9h0M832.9 260.9h0M832.9 269.9h0M832.9 278.8h0M832.9 287.8h0M832.9 296.8h0M832.9 305.8h0M832.9 503.2h0M832.9 512.2h0M832.9 521.1h0M832.9 530.1h0M832.9 539.1h0M832.9 548.1h0M841.0 220.5h0M841.0 229.5h0M841.0 238.4h0M841.0 247.4h0M841.0 256.4h0M841.0 265.4h0M841.0 274.3h0M841.0 283.3h0M841.0 292.3h0M841.0 301.3h0M841.0 498.7h0M841.0 507.7h0M841.0 516.7h0M841.0 525.6h0M841.0 534.6h0M841.0 543.6h0M841.0 552.6h0M849.0 225.0h0M849.0 233.9h0M849.0 242.9h0M849.0 251.9h0M849.0 260.9h0M849.0 269.9h0M849.0 278.8h0M849.0 287.8h0M849.0 296.8h0M849.0 485.2h0M849.0 512.2h0M849.0 521.1h0M849.0 530.1h0M849.0 539.1h0M849.0 548.1h0M849.0 557.0h0M849.0 566.0h0M857.1 220.5h0M857.1 229.5h0M857.1 238.4h0M857.1 247.4h0M857.1 256.4h0M857.1 265.4h0M857.1 274.3h0M857.1 283.3h0M857.1 292.3h0M857.1 489.7h0M857.1 507.7h0M857.1 516.7h0M857.1 525.6h0M857.1 534.6h0M857.1 543.6h0M857.1 552.6h0M857.1 561.5h0M857.1 570.5h0M865.2 225.0h0M865.2 233.9h0M865.2 242.9h0M865.2 251.9h0M865.2 260.9h0M865.2 269.9h0M865.2 278.8h0M865.2 287.8h0M865.2 485.2h0M865.2 512.2h0M865.2 521.1h0M865.2 530.1h0M865.2 539.1h0M865.2 548.1h0M865.2 557.0h0M865.2 566.0h0M865.2 584.0h0M873.2 229.5h0M873.2 238.4h0M873.2 247.4h0M873.2 256.4h0M873.2 265.4h0M873.2 274.3h0M873.2 283.3h0M873.2 525.6h0M873.2 534.6h0M873.2 543.6h0M873.2 552.6h0M873.2 561.5h0M881.3 225.0h0M881.3 233.9h0M881.3 242.9h0M881.3 251.9h0M881.3 260.9h0M881.3 269.9h0M881.3 278.8h0M881.3 287.8h0M881.3 539.1h0M881.3 548.1h0M889.3 229.5h0M889.3 238.4h0M889.3 247.4h0M889.3 256.4h0M889.3 265.4h0M889.3 274.3h0M889.3 283.3h0M889.3 310.2h0M889.3 319.2h0M897.4 225.0h0M897.4 233.9h0M897.4 242.9h0M897.4 251.9h0M897.4 260.9h0M897.4 269.9h0M897.4 278.8h0M897.4 296.8h0M897.4 305.8h0M897.4 314.7h0M897.4 323.7h0M905.4 238.4h0M905.4 247.4h0M905.4 256.4h0M905.4 265.4h0M905.4 274.3h0M905.4 283.3h0M905.4 292.3h0M905.4 301.3h0M913.5 233.9h0M913.5 242.9h0M913.5 251.9h0M913.5 260.9h0M913.5 269.9h0M913.5 278.8h0M913.5 287.8h0M921.6 238.4h0M921.6 247.4h0M921.6 256.4h0M921.6 265.4h0M921.6 274.3h0M921.6 283.3h0M921.6 588.5h0M921.6 597.4h0M929.6 233.9h0M929.6 242.9h0M929.6 251.9h0M929.6 260.9h0M929.6 269.9h0M929.6 278.8h0M929.6 584.0h0M937.7 238.4h0M937.7 247.4h0M937.7 256.4h0M937.7 265.4h0M937.7 274.3h0M937.7 570.5h0M937.7 579.5h0M945.7 233.9h0M945.7 242.9h0M945.7 251.9h0M945.7 260.9h0M945.7 269.9h0M953.8 220.5h0M953.8 247.4h0M953.8 256.4h0M961.8 251.9h0M961.8 260.9h0M969.9 256.4h0" stroke="#c6c6c6" stroke-width="6.1" stroke-linecap="round" fill="none"/>
</svg>
<svg width="1060" height="703" viewBox="0 0 1060 703" font-family="Liberation Sans, sans-serif" fill="#0c0c0c">
<text transform="translate(66.3 113.5) scale(1 1.03)" font-size="22.10">North America</text>
<text x="66.0" y="147.7" font-size="14.77">Costa Rica</text>
<text x="66.0" y="165.4" font-size="14.77">Canada</text>
<text x="66.0" y="183.2" font-size="14.77">Barbados</text>
<text x="66.0" y="200.9" font-size="14.77">Dominica...</text>
<text x="166.6" y="147.7" font-size="14.77">Mexico</text>
<text x="166.0" y="165.4" font-size="14.77">United States</text>
<text x="166.0" y="183.2" font-size="14.77">Honduras</text>
<text transform="translate(338.8 119.5) scale(1 1.03)" font-size="22.10">Europe</text>
<text x="338.8" y="148.4" font-size="14.77">Ireland</text>
<text x="338.8" y="166.2" font-size="14.77">Poland</text>
<text x="338.8" y="184.1" font-size="14.77">France</text>
<text x="338.8" y="201.9" font-size="14.77">United Kingdom</text>
<text x="338.8" y="219.8" font-size="14.77">Latvia Cyprus</text>
<text x="338.8" y="237.6" font-size="14.77">Estonia</text>
<text x="338.8" y="255.4" font-size="14.77">Greece...</text>
<text x="338.8" y="273.3" font-size="14.77">Belgium</text>
<text x="338.8" y="291.1" font-size="14.77">Russia</text>
<text x="338.8" y="309.0" font-size="14.77">Italy</text>
<text x="338.8" y="326.8" font-size="14.77">Ukraine</text>
<text x="338.8" y="344.6" font-size="14.77">Kosovo</text>
<text x="338.8" y="362.5" font-size="14.77">Switzerlan</text>
<text x="461.3" y="148.4" font-size="14.77">Austria</text>
<text x="461.9" y="166.2" font-size="14.77">Denmark</text>
<text x="461.7" y="184.1" font-size="14.77">Finland</text>
<text x="459.7" y="201.9" font-size="14.77">Hungary</text>
<text x="457.0" y="219.8" font-size="14.77">Malta</text>
<text x="457.3" y="237.6" font-size="14.77">Bulgarian</text>
<text x="455.6" y="255.4" font-size="14.77">Belarus</text>
<text x="456.9" y="273.3" font-size="14.77">Germany</text>
<text x="456.3" y="291.1" font-size="14.77">Netherlands</text>
<text x="455.6" y="309.0" font-size="14.77">Turkey</text>
<text x="458.5" y="326.8" font-size="14.77">Serbia</text>
<text x="456.4" y="344.6" font-size="14.77">Slovenia</text>
<text x="455.7" y="362.5" font-size="14.77">Greece...</text>
<text transform="translate(758.0 95.1) scale(1 1.03)" font-size="22.10">Asia</text>
<text x="758.2" y="130.8" font-size="14.77">Japan</text>
<text x="758.2" y="148.6" font-size="14.77">Vietnam</text>
<text x="758.2" y="166.4" font-size="14.77">Saudi Arabia</text>
<text x="758.2" y="184.2" font-size="14.77">United Arab Emirates</text>
<text x="758.2" y="202.0" font-size="14.77">Indonesia</text>
<text x="758.2" y="219.8" font-size="14.77">Philippines</text>
<text x="758.2" y="237.6" font-size="14.77">Thailand</text>
<text x="855.4" y="130.8" font-size="14.77">Korea</text>
<text x="856.8" y="148.6" font-size="14.77">India</text>
<text x="854.6" y="202.0" font-size="14.77">Malaysia</text>
<text x="858.5" y="219.8" font-size="14.77">Singapore</text>
<text transform="translate(892.1 443.6) scale(1 1.03)" font-size="22.10">Oceania</text>
<text x="891.5" y="478.9" font-size="14.77">Australia</text>
<text x="891.5" y="496.7" font-size="14.77">New Zealand</text>
<text x="891.5" y="514.5" font-size="14.77">New Caledonia...</text>
<text x="1011.3" y="496.7" font-size="14.77">Fiji</text>
<text transform="translate(504.0 411.6) scale(1 1.03)" font-size="22.10">Africa</text>
<text x="504.5" y="437.9" font-size="14.77">Tunisia</text>
<text x="504.0" y="455.8" font-size="14.77">South Africa</text>
<text x="504.0" y="473.7" font-size="14.77">Ghana</text>
<text x="504.0" y="491.6" font-size="14.77">d'Ivoire</text>
<text x="504.0" y="509.5" font-size="14.77">Burkina Faso</text>
<text x="504.5" y="527.4" font-size="14.77">Tanzania</text>
<text x="504.0" y="545.3" font-size="14.77">Durban</text>
<text x="615.2" y="437.9" font-size="14.77">Morocco</text>
<text x="615.4" y="455.8" font-size="14.77">Nigeria</text>
<text x="611.4" y="473.7" font-size="14.77">Cote</text>
<text x="611.2" y="491.6" font-size="14.77">Togo</text>
<text x="611.2" y="509.5" font-size="14.77">Mozambique</text>
<text x="610.0" y="545.3" font-size="14.77">Azania...</text>
<text transform="translate(31.6 498.0) scale(1 1.03)" font-size="22.10">South America</text>
<text x="31.6" y="526.3" font-size="14.77">Brazil</text>
<text x="31.6" y="544.0" font-size="14.77">Colombia</text>
<text x="31.6" y="561.7" font-size="14.77">Argentina</text>
<text x="31.6" y="579.4" font-size="14.77">Peru</text>
<text x="31.6" y="597.1" font-size="14.77">Venezuela</text>
<text x="31.6" y="614.8" font-size="14.77">Willemstad...</text>
<text x="77.0" y="526.3" font-size="14.77">Panama</text>
<text x="164.4" y="526.3" font-size="14.77">Paraguay</text>
<text x="163.4" y="544.0" font-size="14.77">Ecuador</text>
<text x="163.7" y="561.7" font-size="14.77">Uruguay</text>
<text x="164.6" y="579.4" font-size="14.77">Guyana</text>
<text x="166.6" y="597.1" font-size="14.77">Chile</text>
</svg>
<svg width="1060" height="703" viewBox="0 0 1060 703" font-family="Liberation Sans, sans-serif">
<path d="M269.8 131.1 L269.8 297.6 L186.5 304.0" fill="none" stroke="#0a0a0a" stroke-width="2.7" stroke-linecap="round" stroke-linejoin="round" stroke-dasharray="0 5.55"/>
<path d="M550.0 128.9 L550.0 337.6" fill="none" stroke="#0a0a0a" stroke-width="2.8" stroke-linecap="round" stroke-linejoin="round" stroke-dasharray="0 5.95"/>
<path d="M701.0 173.7 L701.0 332.2" fill="none" stroke="#0a0a0a" stroke-width="2.4" stroke-linecap="round" stroke-linejoin="round" stroke-dasharray="0 5.10"/>
<path d="M880.2 410.2 L866.3 424.4 L864.3 431.0 L864.3 523.5" fill="none" stroke="#0a0a0a" stroke-width="2.9" stroke-linecap="round" stroke-linejoin="round" stroke-dasharray="0 6.55"/>
<path d="M265.1 537.0 L265.1 484.3 L327.3 472.3" fill="none" stroke="#0a0a0a" stroke-width="2.6" stroke-linecap="round" stroke-linejoin="round" stroke-dasharray="0 5.26"/>
<path d="M491.7 406.8 L440.7 428.9 L440.7 576.0" fill="none" stroke="#0a0a0a" stroke-width="2.8" stroke-linecap="round" stroke-linejoin="round" stroke-dasharray="0 5.60"/>
<g transform="translate(269.4 86.1)">
<circle r="41.60" fill="#fff"/>
<g transform="rotate(0)">
<circle r="35.30" fill="none" stroke="#be1e2d" stroke-width="12.60"/>
<line x1="7.73" y1="-24.82" x2="13.26" y2="-42.58" stroke="#fff" stroke-width="3.9"/>
<line x1="21.40" y1="14.76" x2="36.71" y2="25.33" stroke="#fff" stroke-width="3.9"/>
<line x1="9.11" y1="24.35" x2="15.62" y2="41.78" stroke="#fff" stroke-width="3.9"/>
<line x1="-14.65" y1="21.48" x2="-25.13" y2="36.84" stroke="#fff" stroke-width="3.9"/>
</g>
<text x="10.2" y="8.9" font-size="26.4" fill="#be1e2d" text-anchor="end">13.</text>
<text x="7.4" y="-3.2" font-size="14.6" fill="#be1e2d">05</text>
<text x="10.8" y="11.7" font-size="14.4" fill="#be1e2d">%</text>
</g>
<g transform="translate(549.1 84.6)">
<circle r="43.20" fill="#fff"/>
<g transform="rotate(0)">
<circle r="36.80" fill="none" stroke="#be1e2d" stroke-width="12.80"/>
<line x1="8.15" y1="-26.16" x2="13.74" y2="-44.11" stroke="#fff" stroke-width="3.9"/>
<line x1="22.55" y1="15.56" x2="38.03" y2="26.23" stroke="#fff" stroke-width="3.9"/>
<line x1="9.60" y1="25.66" x2="16.18" y2="43.27" stroke="#fff" stroke-width="3.9"/>
<line x1="-15.44" y1="22.64" x2="-26.03" y2="38.17" stroke="#fff" stroke-width="3.9"/>
</g>
<text x="10.8" y="12.0" font-size="26.4" fill="#be1e2d" text-anchor="end">48.</text>
<text x="8.0" y="-0.1" font-size="14.6" fill="#be1e2d">56</text>
<text x="11.4" y="14.8" font-size="14.4" fill="#be1e2d">%</text>
</g>
<g transform="translate(700.3 131.2)">
<circle r="40.20" fill="#fff"/>
<g transform="rotate(0)">
<circle r="34.20" fill="none" stroke="#be1e2d" stroke-width="12.00"/>
<line x1="7.49" y1="-24.06" x2="12.85" y2="-41.25" stroke="#fff" stroke-width="3.9"/>
<line x1="20.74" y1="14.31" x2="35.56" y2="24.53" stroke="#fff" stroke-width="3.9"/>
<line x1="8.83" y1="23.60" x2="15.13" y2="40.46" stroke="#fff" stroke-width="3.9"/>
<line x1="-14.20" y1="20.82" x2="-24.34" y2="35.69" stroke="#fff" stroke-width="3.9"/>
</g>
<text x="3.5" y="10.6" font-size="26.4" fill="#be1e2d" text-anchor="end">8.</text>
<text x="0.7" y="-1.5" font-size="14.6" fill="#be1e2d">57</text>
<text x="4.1" y="13.4" font-size="14.4" fill="#be1e2d">%</text>
</g>
<g transform="translate(899.2 368.8)">
<circle r="44.00" fill="#fff"/>
<g transform="rotate(0)">
<circle r="37.45" fill="none" stroke="#be1e2d" stroke-width="13.10"/>
<line x1="8.30" y1="-26.64" x2="13.98" y2="-44.87" stroke="#fff" stroke-width="3.9"/>
<line x1="22.97" y1="15.84" x2="38.69" y2="26.69" stroke="#fff" stroke-width="3.9"/>
<line x1="9.77" y1="26.13" x2="16.46" y2="44.02" stroke="#fff" stroke-width="3.9"/>
<line x1="-15.72" y1="23.05" x2="-26.49" y2="38.83" stroke="#fff" stroke-width="3.9"/>
</g>
<text x="3.3" y="9.0" font-size="26.4" fill="#be1e2d" text-anchor="end">1.</text>
<text x="0.5" y="-3.1" font-size="14.6" fill="#be1e2d">58</text>
<text x="3.9" y="11.8" font-size="14.4" fill="#be1e2d">%</text>
</g>
<g transform="translate(264.4 582.6)">
<circle r="40.10" fill="#fff"/>
<g transform="rotate(0)">
<circle r="34.30" fill="none" stroke="#be1e2d" stroke-width="11.60"/>
<line x1="7.58" y1="-24.35" x2="12.82" y2="-41.15" stroke="#fff" stroke-width="3.9"/>
<line x1="20.99" y1="14.48" x2="35.48" y2="24.47" stroke="#fff" stroke-width="3.9"/>
<line x1="8.93" y1="23.89" x2="15.09" y2="40.37" stroke="#fff" stroke-width="3.9"/>
<line x1="-14.37" y1="21.07" x2="-24.29" y2="35.60" stroke="#fff" stroke-width="3.9"/>
</g>
<text x="10.8" y="8.3" font-size="26.4" fill="#be1e2d" text-anchor="end">26.</text>
<text x="8.0" y="-3.8" font-size="14.6" fill="#be1e2d">14</text>
<text x="11.4" y="11.1" font-size="14.4" fill="#be1e2d">%</text>
</g>
<g transform="translate(439.5 620.1)">
<circle r="42.50" fill="#fff"/>
<g transform="rotate(180)">
<circle r="36.15" fill="none" stroke="#be1e2d" stroke-width="12.70"/>
<line x1="7.97" y1="-25.59" x2="13.53" y2="-43.44" stroke="#fff" stroke-width="3.9"/>
<line x1="22.06" y1="15.22" x2="37.45" y2="25.84" stroke="#fff" stroke-width="3.9"/>
<line x1="9.39" y1="25.10" x2="15.93" y2="42.62" stroke="#fff" stroke-width="3.9"/>
<line x1="-15.10" y1="22.14" x2="-25.64" y2="37.59" stroke="#fff" stroke-width="3.9"/>
</g>
<text x="2.2" y="8.6" font-size="26.4" fill="#be1e2d" text-anchor="end">2.</text>
<text x="-0.6" y="-3.5" font-size="14.6" fill="#be1e2d">09</text>
<text x="2.8" y="11.4" font-size="14.4" fill="#be1e2d">%</text>
</g>
</svg>
</div></body></html>
